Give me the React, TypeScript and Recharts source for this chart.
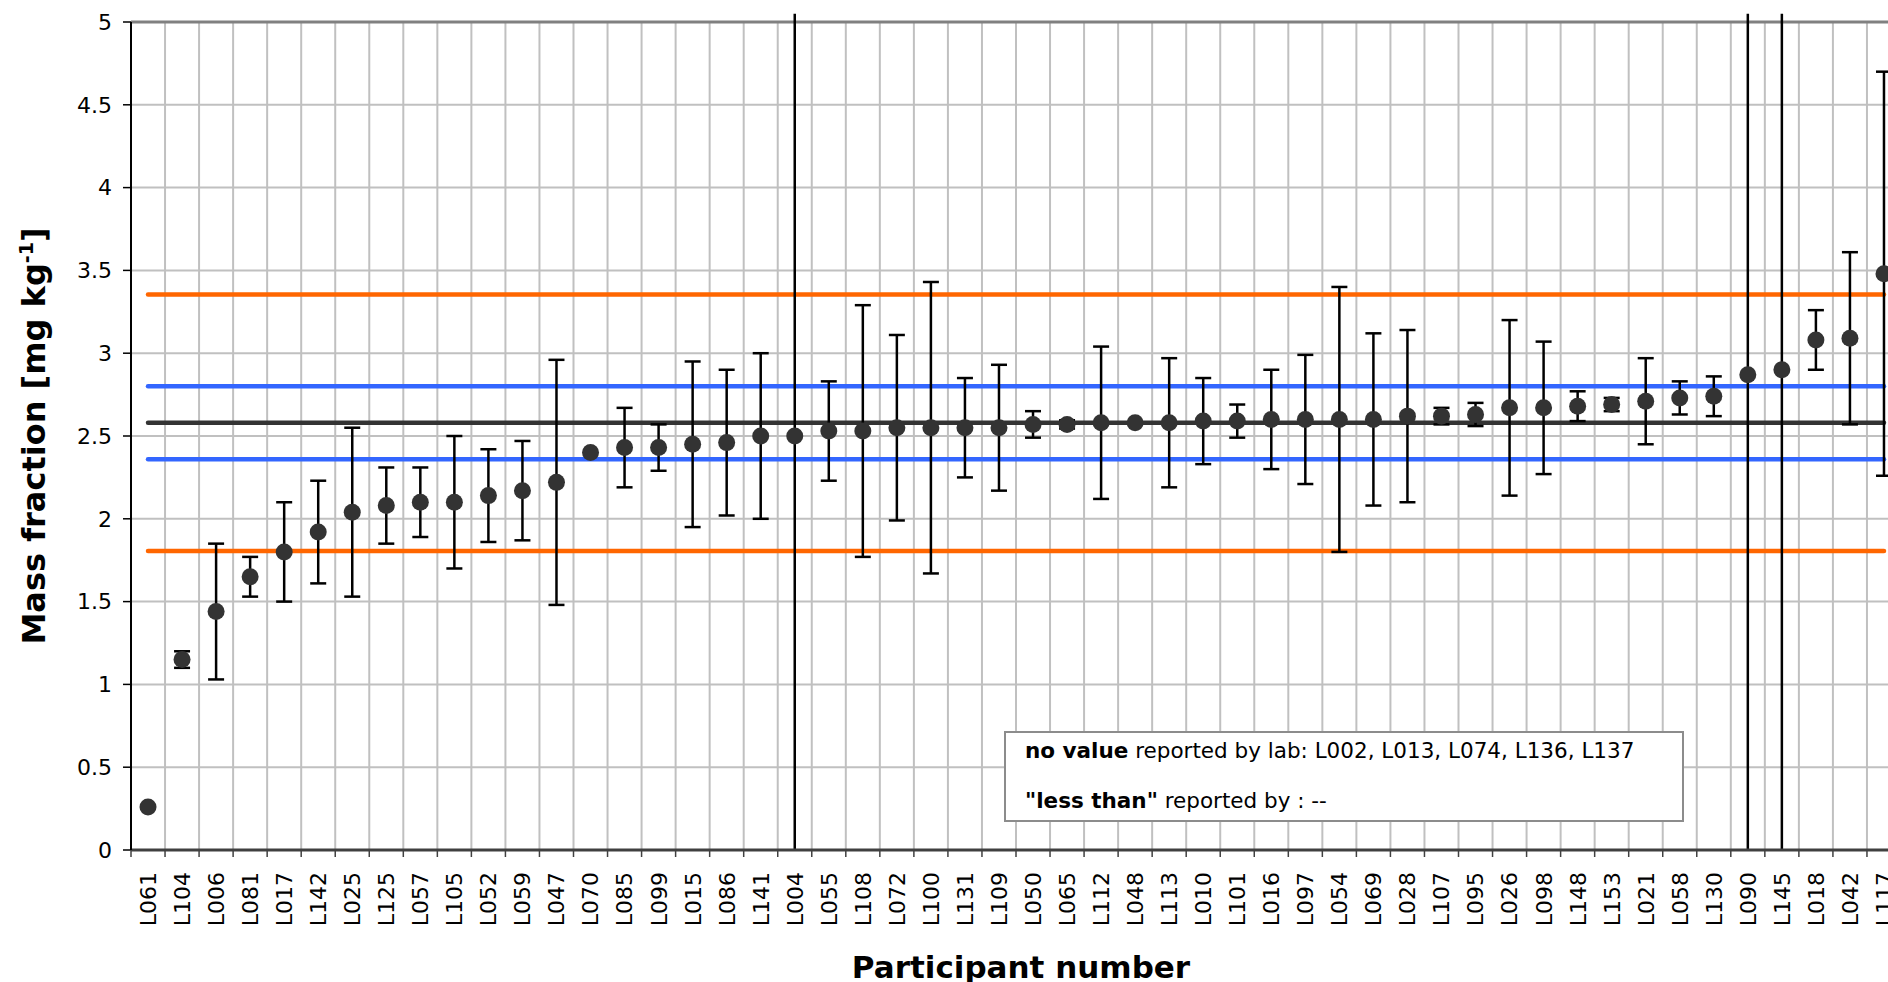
import React from 'react';
import { ComposedChart, Scatter, XAxis, YAxis, CartesianGrid, ErrorBar, ReferenceLine } from 'recharts';

const labs = [
  'L061', 'L104', 'L006', 'L081', 'L017', 'L142', 'L025', 'L125', 'L057', 'L105',
  'L052', 'L059', 'L047', 'L070', 'L085', 'L099', 'L015', 'L086', 'L141', 'L004',
  'L055', 'L108', 'L072', 'L100', 'L131', 'L109', 'L050', 'L065', 'L112', 'L048',
  'L113', 'L010', 'L101', 'L016', 'L097', 'L054', 'L069', 'L028', 'L107', 'L095',
  'L026', 'L098', 'L148', 'L153', 'L021', 'L058', 'L130', 'L090', 'L145', 'L018',
  'L042', 'L117',
];

const massFractions = [
  0.26, 1.15, 1.44, 1.65, 1.80, 1.92, 2.04, 2.08, 2.10, 2.10,
  2.14, 2.17, 2.22, 2.40, 2.43, 2.43, 2.45, 2.46, 2.50, 2.50,
  2.53, 2.53, 2.55, 2.55, 2.55, 2.55, 2.57, 2.57, 2.58, 2.58,
  2.58, 2.59, 2.59, 2.60, 2.60, 2.60, 2.60, 2.62, 2.62, 2.63,
  2.67, 2.67, 2.68, 2.69, 2.71, 2.73, 2.74, 2.87, 2.90, 3.08,
  3.09, 3.48,
];

const expandedUncertainties = [
  0, 0.05, 0.41, 0.12, 0.30, 0.31, 0.51, 0.23, 0.21, 0.40,
  0.28, 0.30, 0.74, 0, 0.24, 0.14, 0.50, 0.44, 0.50, 3.0,
  0.30, 0.76, 0.56, 0.88, 0.30, 0.38, 0.08, 0.025, 0.46, 0,
  0.39, 0.26, 0.10, 0.30, 0.39, 0.80, 0.52, 0.52, 0.05, 0.07,
  0.53, 0.40, 0.09, 0.04, 0.26, 0.10, 0.12, 3.0, 3.0, 0.18,
  0.52, 1.22,
];

const yTicks = [0, 0.5, 1, 1.5, 2, 2.5, 3, 3.5, 4, 4.5, 5];
const assignedValue = 2.58;
const uncertaintyLimits = [2.36, 2.80];
const toleranceLimits = [1.805, 3.355];
const noValueLabs = ['L002', 'L013', 'L074', 'L136', 'L137'];
const lessThanLabs: string[] = [];

const Y_MIN = 0;
const Y_MAX = 5;
const CLIP_TOP = 5.05;
const FONT = 'DejaVu Sans';

const data = labs.map((lab, i) => {
  const v = massFractions[i];
  const u = expandedUncertainties[i];
  const within = v - u >= Y_MIN && v + u <= Y_MAX;
  return {
    lab,
    value: v,
    u: within && u > 0 ? u : null,
    over: !within,
    lo: Math.max(Y_MIN, v - u),
    hi: Math.min(CLIP_TOP, v + u),
  };
});

const XTick = (props: any) => {
  const { x, y, payload } = props;
  const half = payload && typeof payload.offset === 'number' && payload.offset > 0 ? payload.offset : 17;
  const axisY = y - 22;
  return (
    <g>
      <line x1={x - half} x2={x - half} y1={axisY} y2={axisY + 7} stroke="#404040" strokeWidth={1.5} />
      <text
        x={x}
        y={y}
        transform={`rotate(-90, ${x}, ${y})`}
        textAnchor="end"
        dy="0.36em"
        fontSize={22}
        fontFamily={FONT}
        fill="#000"
      >
        {payload.value}
      </text>
    </g>
  );
};

const gridX = (args: any) => {
  const xAxis = args && args.xAxis;
  const scale = xAxis && xAxis.scale;
  if (scale && typeof scale === 'function' && typeof scale.bandwidth === 'function') {
    return labs.map((l) => scale(l));
  }
  const off = args.offset;
  return labs.map((_, i) => off.left + (i * off.width) / labs.length);
};

const Dot = (p: any) => <circle cx={p.cx} cy={p.cy} r={8.5} fill="#333333" />;

export default function App() {
  const first = labs[0];
  const last = labs[labs.length - 1];
  const bands = [
    { v: toleranceLimits[1], c: '#FF6600' },
    { v: uncertaintyLimits[1], c: '#3366FF' },
    { v: assignedValue, c: '#333333' },
    { v: uncertaintyLimits[0], c: '#3366FF' },
    { v: toleranceLimits[0], c: '#FF6600' },
  ];
  return (
    <div style={{ position: 'absolute', left: 0, top: 0, width: 1888, height: 982, overflow: 'hidden', background: '#fff' }}>
      <ComposedChart
        width={1905}
        height={982}
        data={data}
        margin={{ top: 22, right: 4, bottom: 0, left: 0 }}
      >
        <CartesianGrid stroke="#c0c0c0" strokeWidth={2} verticalCoordinatesGenerator={gridX} />
        <XAxis
          dataKey="lab"
          type="category"
          scale="band"
          interval={0}
          height={132}
          tickSize={7}
          tickMargin={15}
          tickLine={false}
          tick={(p: any) => <XTick {...p} />}
          axisLine={{ stroke: '#404040', strokeWidth: 3 }}
          label={{
            content: (p: any) => {
              const vb = p.viewBox || { x: 131, y: 850, width: 1770 };
              return (
                <text
                  x={vb.x + vb.width / 2 + 5}
                  y={vb.y + 128}
                  textAnchor="middle"
                  fontSize={31}
                  fontWeight="bold"
                  fontFamily={FONT}
                  fill="#000"
                >
                  Participant number
                </text>
              );
            },
          }}
        />
        <YAxis
          type="number"
          domain={[Y_MIN, Y_MAX]}
          ticks={yTicks}
          interval={0}
          width={131}
          tickSize={8}
          tickMargin={11}
          tick={{ fontSize: 22, fill: '#000', fontFamily: FONT }}
          axisLine={{ stroke: '#000', strokeWidth: 2 }}
          tickLine={{ stroke: '#000', strokeWidth: 1.5 }}
          label={{
            content: (p: any) => {
              const vb = p.viewBox || { x: 0, y: 22, width: 131, height: 828 };
              const cx = 45;
              const cy = vb.y + vb.height / 2;
              return (
                <text
                  x={cx}
                  y={cy}
                  transform={`rotate(-90, ${cx}, ${cy})`}
                  textAnchor="middle"
                  fontSize={32}
                  fontWeight="bold"
                  fontFamily={FONT}
                  fill="#000"
                >
                  Mass fraction [mg kg
                  <tspan fontSize={19} dy={-12}>-1</tspan>
                  <tspan dy={12}>]</tspan>
                </text>
              );
            },
          }}
        />
        <ReferenceLine y={Y_MAX} stroke="#808080" strokeWidth={3} />
        {bands.map((b, i) => (
          <ReferenceLine
            key={'band' + i}
            segment={[{ x: first, y: b.v }, { x: last, y: b.v }]}
            stroke={b.c}
            strokeWidth={4.5}
            strokeLinecap="round"
            ifOverflow="visible"
          />
        ))}
        {data.filter((d) => d.over).map((d) => (
          <ReferenceLine
            key={'big' + d.lab}
            segment={[{ x: d.lab, y: d.lo }, { x: d.lab, y: d.hi }]}
            stroke="#000"
            strokeWidth={2.5}
            ifOverflow="visible"
          />
        ))}
        <Scatter dataKey="value" fill="#333333" isAnimationActive={false} shape={Dot}>
          <ErrorBar dataKey="u" direction="y" width={8} stroke="#000" strokeWidth={2.5} isAnimationActive={false} />
        </Scatter>
      </ComposedChart>
      <div
        style={{
          position: 'absolute',
          left: 1004,
          top: 731,
          width: 680,
          height: 91,
          boxSizing: 'border-box',
          border: '2px solid #8c8c8c',
          background: '#fff',
          fontFamily: FONT,
          fontSize: 21.5,
          color: '#000',
        }}
      >
        <div style={{ position: 'absolute', left: 19, top: 5, whiteSpace: 'nowrap', lineHeight: '26px' }}>
          <b>no value</b> reported by lab: {noValueLabs.join(', ')}
        </div>
        <div style={{ position: 'absolute', left: 19, top: 55, whiteSpace: 'nowrap', lineHeight: '26px' }}>
          <b>"less than"</b> reported by : {lessThanLabs.length ? lessThanLabs.join(', ') : '--'}
        </div>
      </div>
    </div>
  );
}
